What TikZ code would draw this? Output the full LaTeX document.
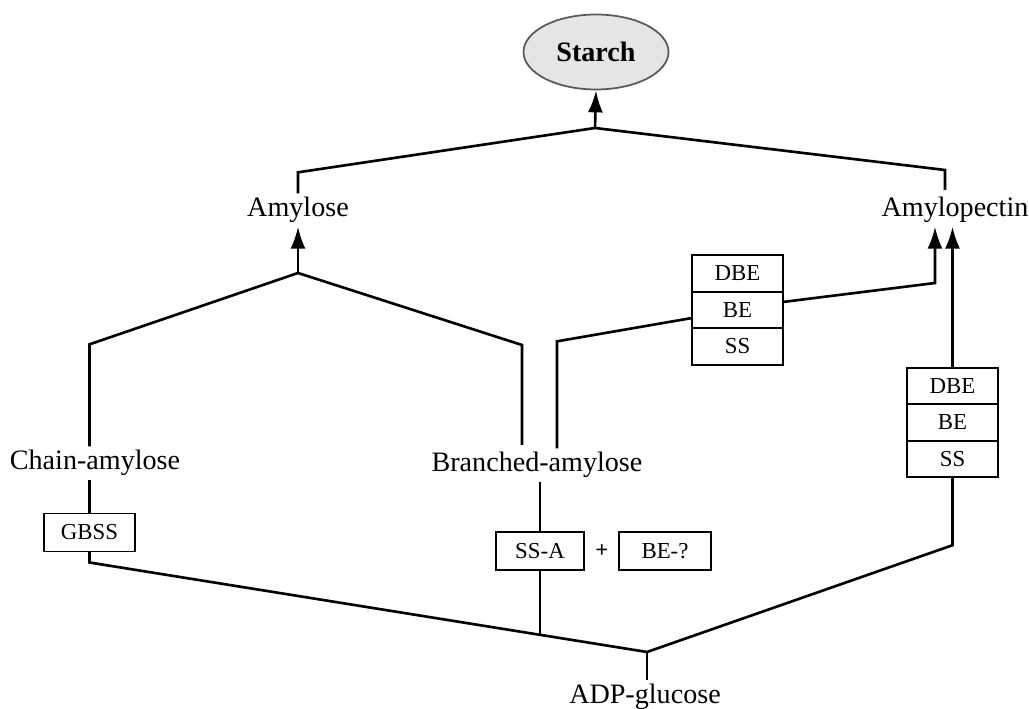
\documentclass[tikz,border=0pt]{standalone}
\usepackage{fontspec}
\setmainfont{Liberation Serif}
\usetikzlibrary{arrows.meta,positioning,shapes.geometric,calc}

\begin{document}
\begin{tikzpicture}[x=0.02cm, y=-0.02cm,
  txt/.style={inner sep=2pt, font=\fontsize{16}{19}\selectfont},
  box/.style={draw, line width=1pt, outer sep=0pt, minimum width=1.82cm, minimum height=0.76cm, inner sep=1pt, font=\fontsize{13}{15}\selectfont},
  row/.style={box, minimum height=0.73cm},
  link/.style={line width=1.5pt, line join=miter},
  flow/.style={link, -{Latex[length=0.44cm, width=0.3cm]}}
]
\useasboundingbox (0,0) rectangle (1029,709);

\node[ellipse, draw=black!65, line width=1pt, fill=black!10, minimum width=2.9cm, minimum height=1.5cm, font=\bfseries\fontsize{16}{19}\selectfont] (starch) at (596,52) {Starch};
\node[txt] (amylose) at (298,210) {Amylose};
\node[txt] (amylopectin) at (955,210) {Amylopectin};
\node[txt] (chain) at (95,463) {Chain-amylose};
\node[txt] (branched) at (537,465) {Branched-amylose};
\node[txt] (adp) at (645,697) {ADP-glucose};

\node[box] (gbss) at (89.5,532.5) {GBSS};
\node[box, minimum width=1.76cm] (ssa) at (540,551) {SS-A};
\node[txt, font=\bfseries\fontsize{13}{15}\selectfont] (plus) at (602,551) {+};
\node[box, minimum width=1.84cm] (beq) at (665,551) {BE-?};

\node[row] (dbeL) at (737.5,273.5) {DBE};
\node[row, below=0pt of dbeL] (beL) {BE};
\node[row, below=0pt of beL] (ssL) {SS};

\node[row] (dbeR) at (952.5,386) {DBE};
\node[row, below=0pt of dbeR] (beR) {BE};
\node[row, below=0pt of beR] (ssR) {SS};

\coordinate (top) at (595,128);
\coordinate (amyTop) at (298,273);
\coordinate (adpTop) at (647,652);
\coordinate (bend) at (935,283);

\draw[link] (amylose.north) -- ++(0,-21) -- (top) -- ++(350,42) -- ++(0,20);
\draw[flow] (top) -- (starch.south);

\draw[link] (gbss.north |- chain.north) -- ++(0,-102) -- (amyTop) -- ++(224,72) -- ++(0,100);
\draw[flow] (amyTop) -- (amylose.south);

\draw[link] (gbss.north |- chain.south) -- (gbss.north);
\draw[link] (ssa.north |- branched.south) -- (ssa.north);

\draw[link] ($(branched.north)+(20,0)$) -- ++(0,-107) -- (beL.190);
\draw[flow] (beL.10) -- (bend) -- (bend |- amylopectin.south);

\draw[link] (gbss.south) -- ++(0,11) -- (adpTop) -- ($(ssR.south)+(0,68)$) -- (ssR.south);
\draw[link] (adpTop) -- (adpTop |- adp.north);
\draw[link] (ssa.south) -- ++(0,64);
\draw[flow] (dbeR.north) -- (dbeR.north |- amylopectin.south);
\end{tikzpicture}
\end{document}
